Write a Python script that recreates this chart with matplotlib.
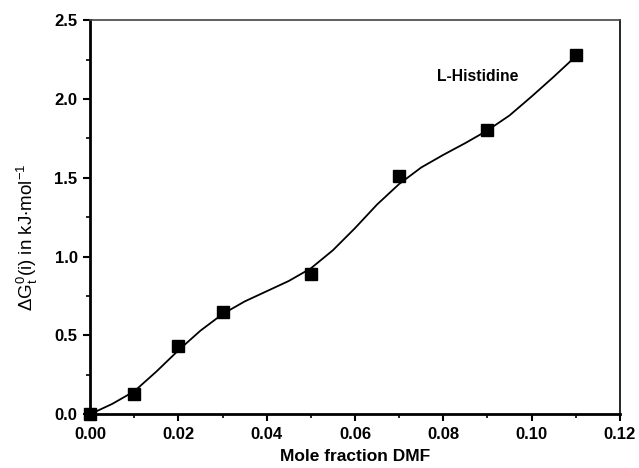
import matplotlib
matplotlib.use('Agg')
import matplotlib.pyplot as plt
from matplotlib.ticker import MultipleLocator

plt.rcParams['font.family'] = ['Liberation Sans', 'DejaVu Sans']
plt.rcParams['mathtext.default'] = 'regular'

# measured points (mole fraction DMF, transfer free energy)
fracao = [0.00, 0.01, 0.02, 0.03, 0.05, 0.07, 0.09, 0.11]
dG = [0.00, 0.13, 0.43, 0.65, 0.89, 1.51, 1.80, 2.28]

# smooth curve
curva_x = [0.000, 0.005, 0.010, 0.015, 0.020, 0.025, 0.030, 0.035, 0.040, 0.045,
           0.050, 0.055, 0.060, 0.065, 0.070, 0.075, 0.080, 0.085, 0.090, 0.095,
           0.100, 0.105, 0.110]
curva_y = [0.000, 0.065, 0.145, 0.270, 0.405, 0.530, 0.635, 0.715, 0.780, 0.845,
           0.925, 1.040, 1.180, 1.330, 1.460, 1.565, 1.645, 1.720, 1.800, 1.895,
           2.015, 2.140, 2.270]

fig = plt.figure(figsize=(6.39, 4.68), dpi=100)
ax = fig.add_axes([0.141, 0.115, 0.829, 0.842])

ax.plot(curva_x, curva_y, color='black', lw=1.3)
ax.plot(fracao, dG, 's', color='black', markersize=8, clip_on=False)

ax.set_xlim(0, 0.12)
ax.set_ylim(0, 2.5)
ax.xaxis.set_major_locator(MultipleLocator(0.02))
ax.xaxis.set_minor_locator(MultipleLocator(0.01))
ax.yaxis.set_major_locator(MultipleLocator(0.5))
ax.yaxis.set_minor_locator(MultipleLocator(0.25))
ax.xaxis.set_major_formatter(plt.FormatStrFormatter('%.2f'))
ax.yaxis.set_major_formatter(plt.FormatStrFormatter('%.1f'))

ax.tick_params(which='major', direction='out', length=5, width=1.5, labelsize=12, pad=4)
ax.tick_params(which='minor', direction='out', length=3, width=1.2)
ax.tick_params(top=False, right=False, which='both')
for lab in ax.get_xticklabels() + ax.get_yticklabels():
    lab.set_fontweight('bold')

ax.spines['left'].set_linewidth(2)
ax.spines['bottom'].set_linewidth(2)
ax.spines['top'].set_linewidth(1.2)
ax.spines['right'].set_linewidth(1.2)
ax.spines['top'].set_color('#444444')

ax.set_xlabel('Mole fraction DMF', fontsize=12.5, fontweight='bold', labelpad=5)
ax.set_ylabel(r'$\Delta G^0_t$(i) in kJ$\cdot$mol$^{-1}$', fontsize=13.5)
ax.yaxis.set_label_coords(-0.095, 0.45)

ax.text(0.0785, 2.14, 'L-Histidine', fontsize=11.3, fontweight='bold', va='center')

fig.savefig('out.png', dpi=100)
